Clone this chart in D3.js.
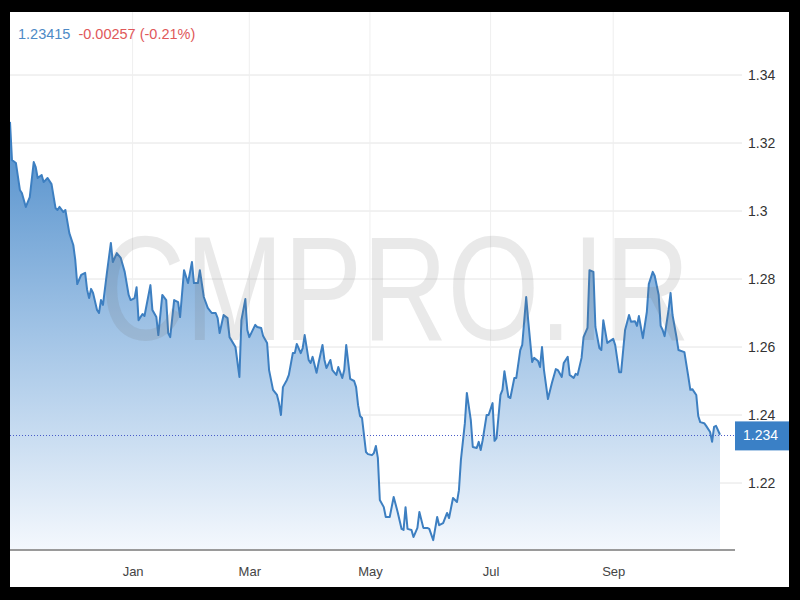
<!DOCTYPE html>
<html><head><meta charset="utf-8">
<script src="https://cdn.jsdelivr.net/npm/d3@7"></script>
<style>html,body{margin:0;padding:0;background:#000;} svg{display:block}</style>
</head><body>
<svg id="chart" width="800" height="600"></svg>
<script>
// ---- data ----
const startDate = "2017-10-31";
const dayOffsets = [0,1,3,5,6,8,10,12,13,14,16,17,19,21,23,24,25,27,28,30,32,33,34,36,38,39,40,41,42,44,45,46,47,49,51,52,54,56,58,60,61,63,64,65,67,68,71,72,74,75,77,79,80,81,83,85,86,88,90,92,93,95,96,98,100,102,104,105,106,108,110,111,114,116,117,119,120,121,124,125,127,128,130,131,133,135,136,137,138,140,141,143,144,145,147,148,149,151,152,153,155,156,158,159,160,162,163,165,166,168,169,170,172,174,175,176,177,178,180,181,183,184,185,186,187,189,190,192,194,196,198,199,200,201,203,204,206,207,209,211,212,214,216,217,219,221,222,224,226,227,228,230,231,233,234,236,237,238,239,241,242,244,245,246,248,249,250,252,253,255,256,258,259,261,262,264,265,267,268,269,270,272,274,276,277,279,280,282,283,285,286,287,289,290,292,293,295,296,298,299,300,302,305,306,308,309,311,313,314,316,317,318,320,322,323,325,326,328,329,330,331,333,334,335,337,338,341,343,344,345,347,348,349,351,352,354,355,356,357,359];
const values = [1.3262,1.3150,1.3141,1.3062,1.3053,1.3012,1.3041,1.3144,1.3129,1.3097,1.3106,1.3085,1.3097,1.3079,1.3009,1.3003,1.3012,1.2997,1.3003,1.2935,1.2900,1.2856,1.2785,1.2812,1.2818,1.2768,1.2744,1.2771,1.2759,1.2709,1.2700,1.2738,1.2724,1.2818,1.2906,1.2850,1.2876,1.2862,1.2821,1.2753,1.2738,1.2744,1.2776,1.2679,1.2697,1.2691,1.2782,1.2709,1.2688,1.2635,1.2753,1.2738,1.2641,1.2629,1.2738,1.2732,1.2688,1.2826,1.2788,1.2850,1.2788,1.2788,1.2826,1.2747,1.2715,1.2700,1.2700,1.2685,1.2641,1.2694,1.2685,1.2629,1.2600,1.2512,1.2679,1.2741,1.2650,1.2629,1.2665,1.2659,1.2656,1.2632,1.2612,1.2532,1.2474,1.2459,1.2435,1.2400,1.2482,1.2503,1.2518,1.2582,1.2582,1.2609,1.2582,1.2597,1.2635,1.2562,1.2553,1.2571,1.2524,1.2553,1.2606,1.2562,1.2538,1.2562,1.2532,1.2518,1.2541,1.2509,1.2532,1.2606,1.2506,1.2500,1.2482,1.2429,1.2397,1.2391,1.2291,1.2285,1.2282,1.2288,1.2309,1.2274,1.2150,1.2129,1.2100,1.2100,1.2159,1.2115,1.2065,1.2062,1.2129,1.2065,1.2062,1.2041,1.2068,1.2115,1.2068,1.2068,1.2065,1.2032,1.2100,1.2076,1.2082,1.2112,1.2097,1.2156,1.2144,1.2179,1.2268,1.2376,1.2465,1.2385,1.2306,1.2303,1.2321,1.2297,1.2326,1.2400,1.2400,1.2435,1.2324,1.2332,1.2459,1.2474,1.2529,1.2453,1.2450,1.2509,1.2509,1.2591,1.2606,1.2747,1.2679,1.2556,1.2568,1.2559,1.2541,1.2600,1.2532,1.2447,1.2494,1.2535,1.2532,1.2512,1.2553,1.2571,1.2518,1.2509,1.2521,1.2518,1.2568,1.2629,1.2656,1.2826,1.2821,1.2659,1.2597,1.2591,1.2679,1.2612,1.2624,1.2606,1.2526,1.2526,1.2650,1.2694,1.2674,1.2676,1.2662,1.2691,1.2626,1.2703,1.2785,1.2821,1.2809,1.2753,1.2662,1.2650,1.2632,1.2709,1.2759,1.2694,1.2629,1.2591,1.2585,1.2512,1.2474,1.2476,1.2459,1.2397,1.2379,1.2376,1.2368,1.2350,1.2321,1.2365,1.2368,1.2342];
const xTickDates = ["2018-01-01","2018-03-01","2018-05-01","2018-07-01","2018-09-01"];
const xTickLabels = ["Jan","Mar","May","Jul","Sep"];
const yTicks = [1.22,1.24,1.26,1.28,1.3,1.32,1.34];
const lastPrice = "1.23415";
const changeText = "-0.00257 (-0.21%)";
const currentValue = 1.234;
const currentLabel = "1.234";
const watermark = "CMPRO.IR";

// ---- drawing ----
const svg = d3.select("#chart");
const font = "'Liberation Sans', Arial, sans-serif";
const parse = d3.utcParse("%Y-%m-%d");
const start = parse(startDate);
const data = dayOffsets.map((d, i) => ({date: d3.utcDay.offset(start, d), v: values[i]}));

const x = d3.scaleUtc().domain([start, d3.utcDay.offset(start, 359)]).range([10, 720]);
const y = d3.scaleLinear().domain([1.2, 1.36]).range([551, 7]);

const defs = svg.append("defs");
defs.append("clipPath").attr("id", "panel").append("rect")
  .attr("x", 10).attr("y", 12).attr("width", 779).attr("height", 575);
const grad = defs.append("linearGradient").attr("id", "fillGrad")
  .attr("gradientUnits", "userSpaceOnUse").attr("x1", 0).attr("x2", 0).attr("y1", 120).attr("y2", 550);
grad.append("stop").attr("offset", "0%").attr("stop-color", "#4f8dca");
grad.append("stop").attr("offset", "50%").attr("stop-color", "#a2c4e6");
grad.append("stop").attr("offset", "100%").attr("stop-color", "#f4f8fd");

svg.append("rect").attr("x", 10).attr("y", 12).attr("width", 779).attr("height", 575).attr("fill", "#fff");
const g = svg.append("g").attr("clip-path", "url(#panel)");

// grid
g.selectAll(".hgrid").data(yTicks).join("line")
  .attr("x1", 10).attr("x2", 742)
  .attr("y1", d => y(d)).attr("y2", d => y(d))
  .attr("stroke", "#e4e4e4").attr("stroke-width", 1);
g.selectAll(".vgrid").data(xTickDates).join("line")
  .attr("x1", d => x(parse(d))).attr("x2", d => x(parse(d)))
  .attr("y1", 12).attr("y2", 550)
  .attr("stroke", "#efefef").attr("stroke-width", 1);

// area + line
const area = d3.area().x(d => x(d.date)).y0(y(1.2)).y1(d => y(d.v));
const line = d3.line().x(d => x(d.date)).y(d => y(d.v));
g.append("path").datum(data).attr("d", area).attr("fill", "url(#fillGrad)");
g.append("path").datum(data).attr("d", line).attr("fill", "none")
  .attr("stroke", "#3d7fc1").attr("stroke-width", 2).attr("stroke-linejoin", "round");

// watermark (natural width ~590px, stretched vertically)
svg.append("text").attr("x", 0).attr("y", 0).attr("text-anchor", "middle")
  .attr("transform", "translate(395,340) scale(1,1.25)")
  .attr("font-family", font).attr("font-size", 118)
  .attr("fill", "rgba(110,110,110,0.15)").text(watermark);

// current value dotted line
svg.append("line").attr("x1", 10).attr("x2", 735)
  .attr("y1", Math.round(y(currentValue)) + 0.5).attr("y2", Math.round(y(currentValue)) + 0.5)
  .attr("stroke", "#4a5cc8").attr("stroke-width", 1).attr("stroke-dasharray", "1,2");

// bottom axis line
svg.append("line").attr("x1", 10).attr("x2", 735).attr("y1", 550).attr("y2", 550)
  .attr("stroke", "#9a9a9a").attr("stroke-width", 2);

// x axis labels
const xAxis = d3.axisBottom(x).tickValues(xTickDates.map(parse))
  .tickFormat((d, i) => xTickLabels[i]).tickSize(0).tickPadding(17);
const xg = svg.append("g").attr("transform", "translate(0,550)").call(xAxis);
xg.select(".domain").remove();
xg.selectAll("text").attr("font-family", font).attr("font-size", 13).attr("fill", "#444");

// y axis labels
const yAxis = d3.axisRight(y).tickValues(yTicks).tickFormat(d3.format("~g")).tickSize(0).tickPadding(0);
const yg = svg.append("g").attr("transform", "translate(748,0)").call(yAxis);
yg.select(".domain").remove();
yg.selectAll("text").attr("font-family", font).attr("font-size", 14).attr("fill", "#333");

// current value label
svg.append("rect").attr("x", 735).attr("y", y(currentValue) - 14).attr("width", 54).attr("height", 29)
  .attr("fill", "#3a80c6");
svg.append("text").attr("x", 743).attr("y", y(currentValue) + 5)
  .attr("font-family", font).attr("font-size", 14).attr("fill", "#fff").text(currentLabel);

// header
const hdr = svg.append("text").attr("x", 18).attr("y", 39).attr("font-family", font).attr("font-size", 14.5);
hdr.append("tspan").attr("fill", "#4d8ac6").text(lastPrice);
hdr.append("tspan").attr("dx", 8).attr("fill", "#e0585a").text(changeText);
</script>
</body></html>
